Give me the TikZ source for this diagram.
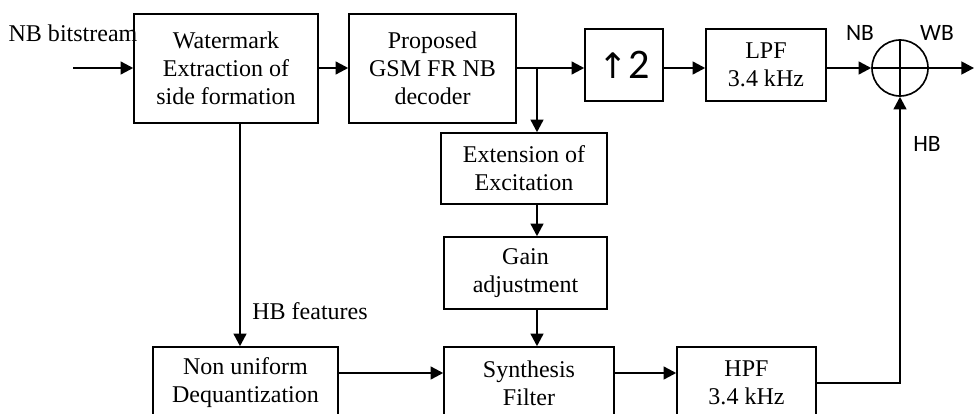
\documentclass[tikz,border=0pt]{standalone}
\usepackage{fontspec}
\setmainfont{Liberation Serif}
\newfontfamily\labelfont{Carlito}
\newfontfamily\symfont{DejaVu Sans}
\usetikzlibrary{arrows.meta,positioning}

\begin{document}
\begin{tikzpicture}[
      x=0.3mm, y=-0.3mm,
      font=\fontsize{20.5}{24}\selectfont,
      blk/.style={draw, line width=1.4pt, align=center, inner sep=0pt},
      sumnode/.style={draw, circle, line width=1.4pt, minimum size=16.8mm,
                      inner sep=0pt},
      tag/.style={font=\labelfont\fontsize{20}{22}\selectfont},
      arr/.style={-{Triangle[length=3.8mm,width=3.9mm]}, line width=1.4pt},
    ]
      \useasboundingbox (0,0) rectangle (979,414);
      \clip (0,0) rectangle (979,414);

      % Top row
      \node (bits) at (73,33) {NB bitstream};
      \node[blk, minimum width=55.2mm, minimum height=32.7mm] (wm) at (226,68.5)
            {Watermark\\Extraction of\\side formation};
      \node[blk, minimum width=50.1mm, minimum height=32.7mm] (dec) at (432.5,68.5)
            {Proposed\\GSM FR NB\\decoder};
      \node[blk, minimum width=23.4mm, minimum height=21.6mm] (up) at (624,65)
            {{\symfont\fontsize{30}{30}\selectfont ↑}{\labelfont\fontsize{36}{36}\selectfont 2}};
      \node[blk, minimum width=36mm, minimum height=21.6mm] (lpf) at (766,65)
            {LPF\\3.4 kHz};
      \node[sumnode] (sum) at (900,68) {};
      \draw[line width=1.4pt] (sum.north)--(sum.south) (sum.west)--(sum.east);
      \node[tag] (nb) at (860,33) {NB};
      \node[tag] (wb) at (937,33) {WB};
      \node[tag] (hb) at (927,144) {HB};

      % Middle column
      \node[blk, minimum width=49.8mm, minimum height=21.3mm] (ext) at (524,168.5)
            {Extension of\\Excitation};
      \node[blk, minimum width=48.9mm, minimum height=21.6mm] (gain) at (525.5,273)
            {Gain\\adjustment};
      \node (hbf) at (310,311) {HB features};

      % Bottom row
      \node[blk, minimum width=55.5mm, minimum height=21.6mm] (nuq) at (245.5,383)
            {Non uniform\\Dequantization};
      \node[blk, minimum width=51mm, minimum height=21.6mm] (syn) at (529,383)
            {Synthesis\\Filter};
      \node[blk, minimum width=41.7mm, minimum height=21.6mm] (hpf) at (746.5,383)
            {HPF\\3.4 kHz};

      % Helper points
      \coordinate (in)  at (73,68);
      \coordinate (out) at (974,68);
      \coordinate (br)  at (537,68);
      \coordinate (dn)  at (240,0);
      \coordinate (r3)  at (0,373);

      % Arrows
      \draw[arr] (in)--(wm.west |- in);
      \draw[arr] (wm.east |- in)--(dec.west |- in);
      \draw[arr] (dec.east |- in)--(up.west |- in);
      \draw[arr] (up.east |- in)--(lpf.west |- in);
      \draw[arr] (lpf.east |- in)--(sum.west);
      \draw[arr] (sum.east)--(out);
      \draw[arr] (br)--(br |- ext.north);
      \draw[arr] (ext.south -| br)--(gain.north -| br);
      \draw[arr] (gain.south -| br)--(syn.north -| br);
      \draw[arr] (wm.south -| dn)--(nuq.north -| dn);
      \draw[arr] (nuq.east |- r3)--(syn.west |- r3);
      \draw[arr] (syn.east |- r3)--(hpf.west |- r3);
      \draw[arr] (hpf.east)-|(sum.south);
    \end{tikzpicture}
\end{document}
